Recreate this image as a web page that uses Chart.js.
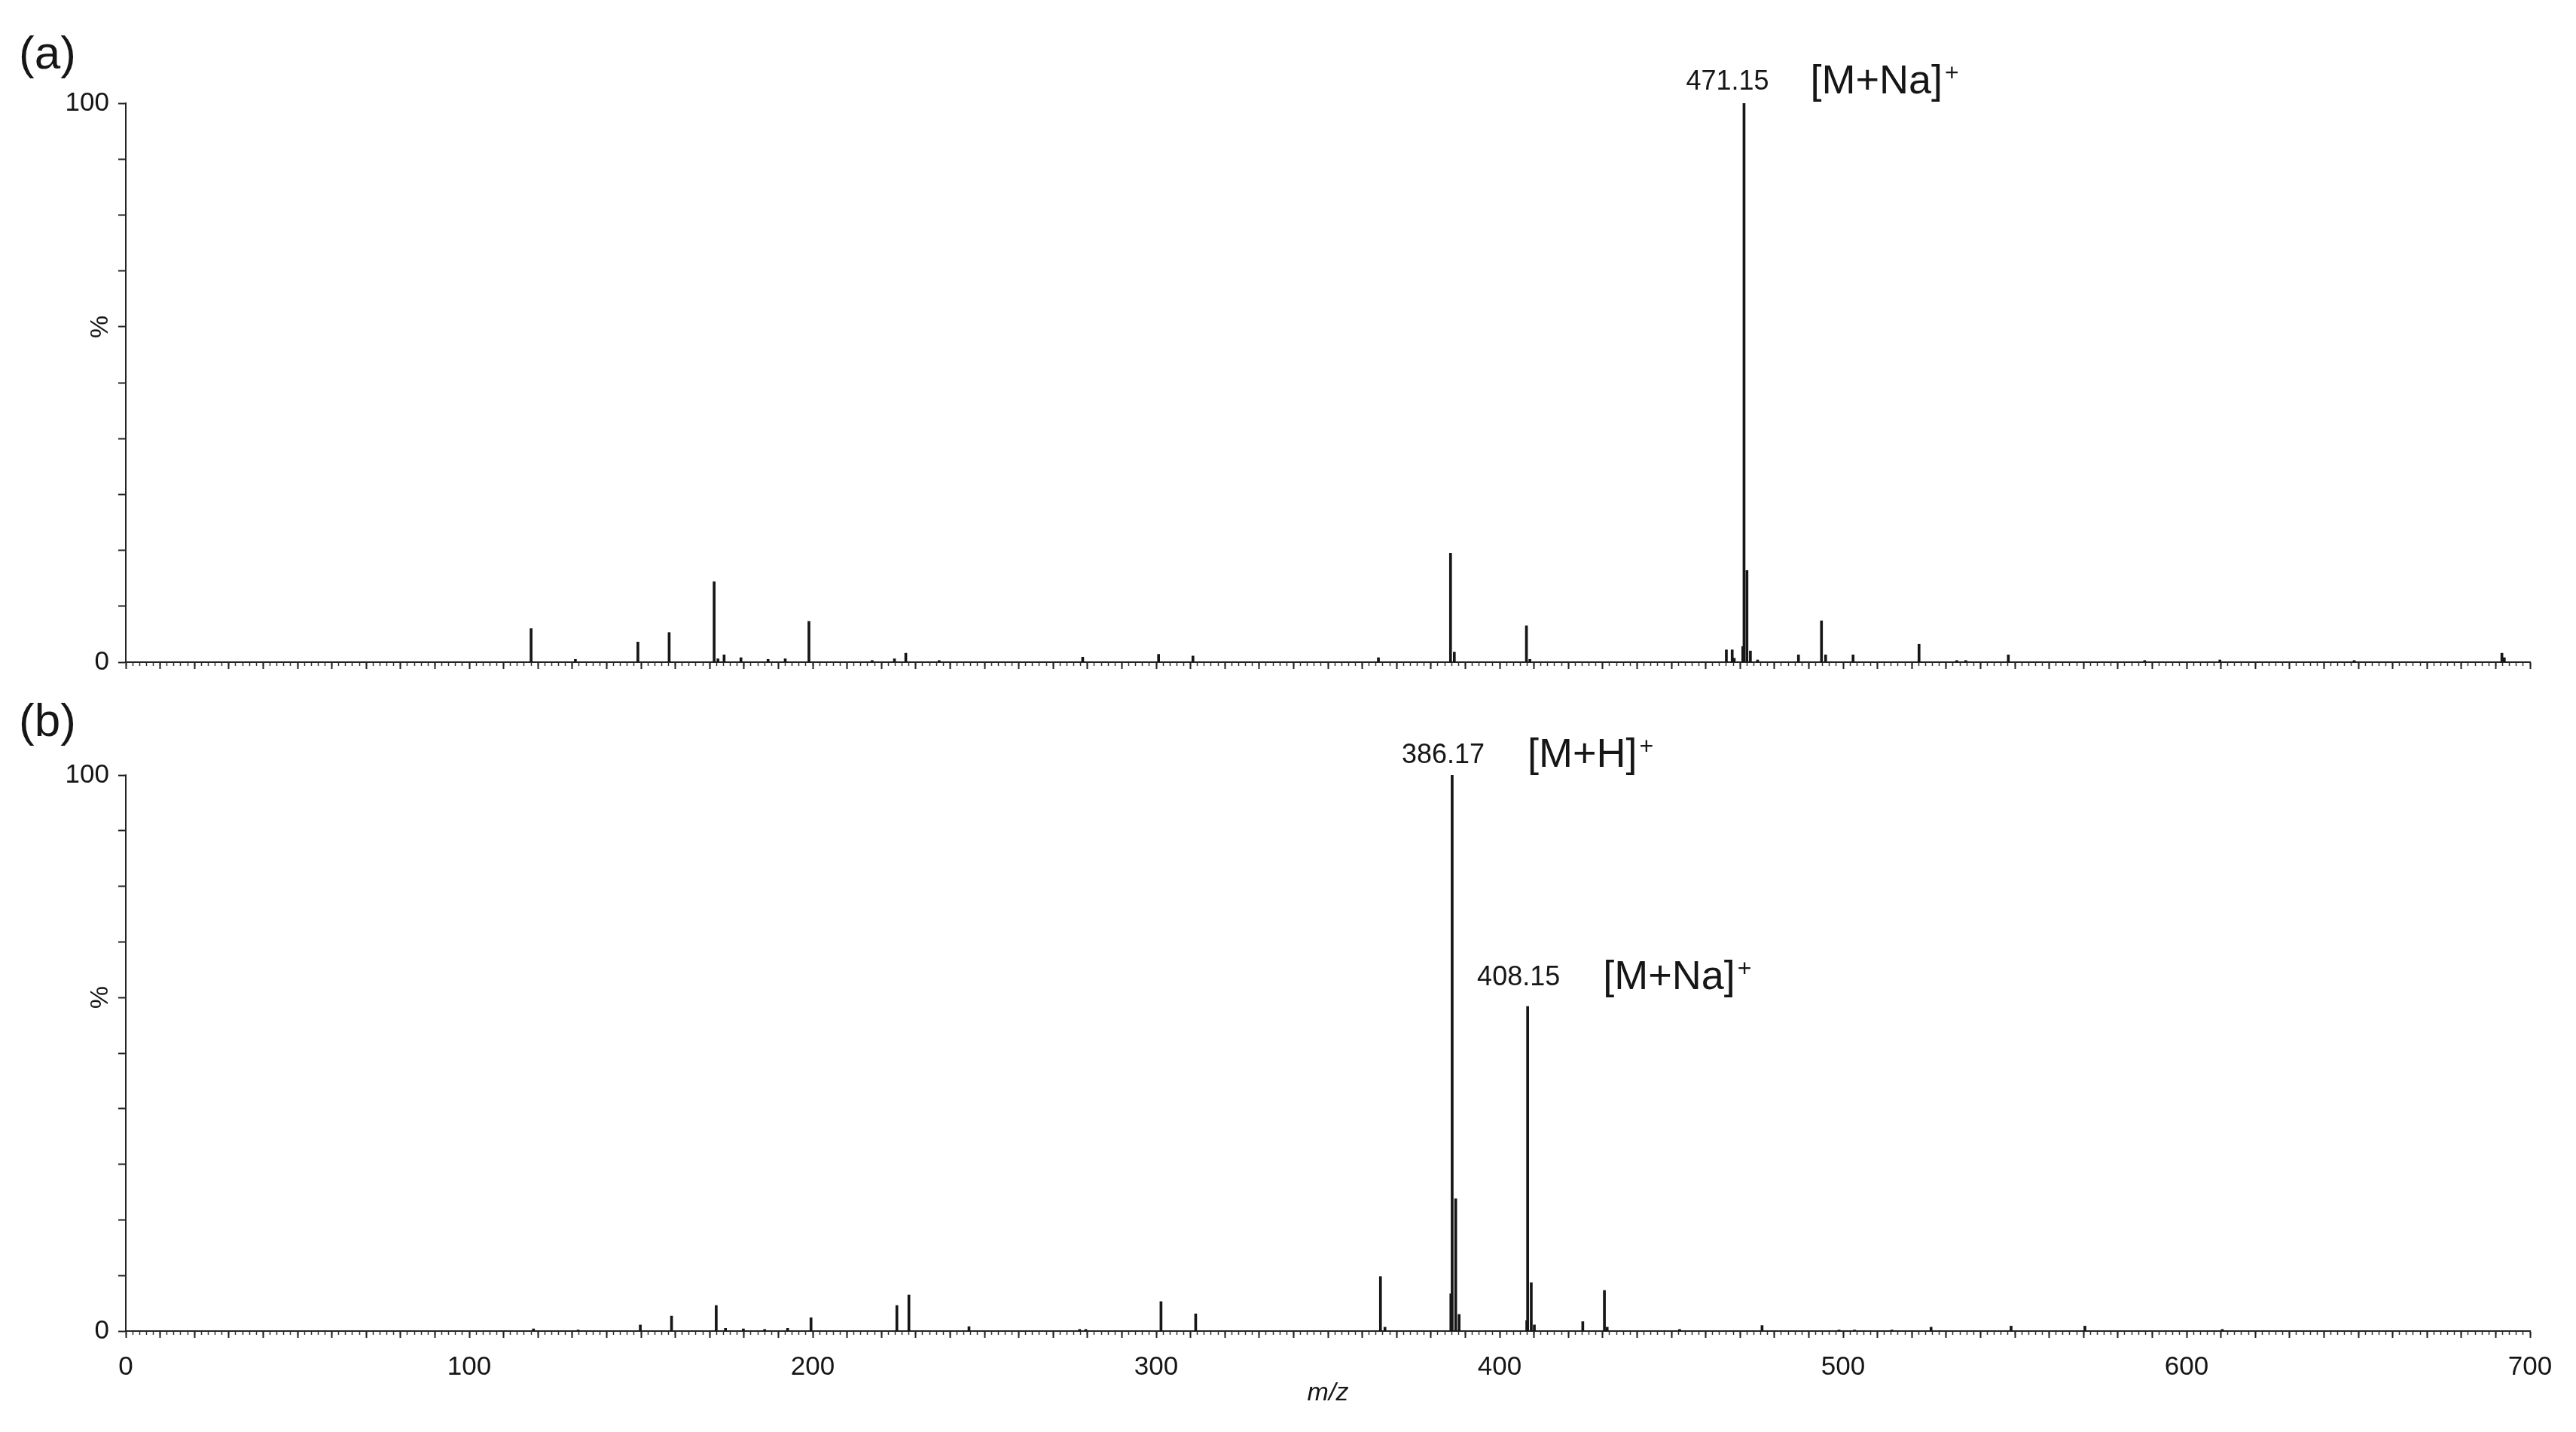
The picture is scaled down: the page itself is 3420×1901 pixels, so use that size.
<!DOCTYPE html>
<html>
<head>
<meta charset="utf-8">
<title>ESI-MS spectra (a) and (b)</title>
<script src="https://cdn.jsdelivr.net/npm/chart.js@4.4.1/dist/chart.umd.min.js"></script>
<style>
  html, body { margin: 0; padding: 0; background: #fff; overflow: hidden; }
  canvas { position: absolute; left: 0; }
  #spectrumA { top: 0; }
  #spectrumB { top: 900px; }
</style>
</head>
<body>
<canvas id="spectrumA" width="3420" height="960"></canvas>
<canvas id="spectrumB" width="3420" height="1001"></canvas>
<script>
// peak lists (m/z, relative intensity %)
const mzA = [118.0, 130.9, 149.1, 158.2, 171.3, 172.4, 174.2, 179.1, 187.0, 192.0,
  198.9, 217.3, 223.8, 227.1, 236.8, 278.6, 300.7, 310.7, 364.7, 385.7,
  386.8, 407.8, 408.8, 466.0, 467.7, 468.3, 470.8, 471.15, 472.0, 473.0,
  475.1, 487.0, 493.7, 494.9, 502.9, 522.1, 533.1, 535.7, 548.1, 587.8,
  609.7, 648.8, 691.8, 692.5];
const intA = [6.0, 0.5, 3.6, 5.3, 14.4, 0.6, 1.3, 0.8, 0.5, 0.6,
  7.3, 0.3, 0.6, 1.6, 0.3, 0.9, 1.4, 1.1, 0.8, 19.5,
  1.8, 6.5, 0.5, 2.2, 2.2, 0.7, 2.8, 100, 16.4, 2.0,
  0.4, 1.3, 7.4, 1.3, 1.3, 3.2, 0.3, 0.3, 1.3, 0.3,
  0.4, 0.3, 1.6, 0.8];

const mzB = [118.7, 131.7, 149.8, 158.9, 171.9, 174.6, 179.8, 186.0, 192.7, 199.5,
  224.5, 228.0, 245.5, 277.7, 279.5, 301.4, 311.5, 365.3, 366.6, 385.8,
  386.17, 387.2, 388.2, 407.9, 408.15, 409.2, 410.1, 424.2, 430.5, 431.3,
  452.4, 476.4, 498.8, 503.3, 514.2, 525.6, 548.9, 570.4, 610.4];
const intB = [0.4, 0.2, 1.1, 2.7, 4.6, 0.5, 0.4, 0.3, 0.5, 2.4,
  4.6, 6.5, 0.8, 0.3, 0.3, 5.3, 3.1, 9.8, 0.7, 6.7,
  100, 23.8, 3.0, 1.9, 58.4, 8.7, 1.1, 1.7, 7.3, 0.7,
  0.3, 1.0, 0.2, 0.2, 0.2, 0.7, 0.9, 0.9, 0.3];

const xTickLabels = [0, 100, 200, 300, 400, 500, 600, 700];
const yTickLabels = [0, 100];

const notesA = [
  { mz: 471.15, level: 103.7, value: '471.15', ion: '[M+Na]', dv: -22, di: 88 },
];
const notesB = [
  { mz: 386.17, level: 103.5, value: '386.17', ion: '[M+H]', dv: -12, di: 100 },
  { mz: 408.15, level: 63.5, value: '408.15', ion: '[M+Na]', dv: -12, di: 100 },
];

const FONT = "'Liberation Sans', Arial, Helvetica, sans-serif";
const INK = '#161616';
Chart.defaults.font.family = FONT;
Chart.defaults.color = INK;

const toPoints = (mz, ints) => mz.map((m, i) => ({ x: m, y: ints[i] }));

const makeAnnotations = (tag, tagY, notes) => ({
  id: `notes${tag}`,
  afterDraw(chart) {
    const { ctx } = chart;
    const { x, y } = chart.scales;
    ctx.save();
    ctx.fillStyle = INK;

    ctx.font = `62px ${FONT}`;
    ctx.textAlign = 'left';
    ctx.textBaseline = 'middle';
    ctx.fillText(tag, 25, tagY);

    // "%" sits at the 60 % mark on the original plots
    ctx.save();
    ctx.translate(134, y.getPixelForValue(60));
    ctx.rotate(-Math.PI / 2);
    ctx.font = `34px ${FONT}`;
    ctx.textAlign = 'center';
    ctx.fillText('%', 0, 0);
    ctx.restore();

    notes.forEach((n) => {
      const px = x.getPixelForValue(n.mz);
      const py = y.getPixelForValue(n.level);
      ctx.font = `36px ${FONT}`;
      ctx.textAlign = 'center';
      ctx.fillText(n.value, px + n.dv, py);

      ctx.font = `54px ${FONT}`;
      ctx.textAlign = 'left';
      ctx.fillText(n.ion, px + n.di, py);
      const w = ctx.measureText(n.ion).width;
      ctx.font = `32px ${FONT}`;
      ctx.fillText('+', px + n.di + w + 3, py - 11);
    });
    ctx.restore();
  },
});

const buildChart = (canvasId, mz, ints, opts) => {
  const ctx = document.getElementById(canvasId).getContext('2d');
  return new Chart(ctx, {
    type: 'bar',
    data: {
      datasets: [{
        data: toPoints(mz, ints),
        backgroundColor: INK,
        borderWidth: 0,
        barThickness: 3,
        xAxisID: 'x',
        yAxisID: 'y',
      }],
    },
    options: {
      responsive: false,
      devicePixelRatio: 1,
      animation: false,
      events: [],
      layout: { padding: { top: opts.top, right: 61, bottom: 0, left: 0 } },
      plugins: { legend: { display: false }, tooltip: { enabled: false } },
      scales: {
        xMinor: {
          type: 'linear',
          axis: 'x',
          position: 'bottom',
          weight: 0,
          min: 0,
          max: 700,
          offset: false,
          afterFit: (scale) => { scale.height = 0; },
          ticks: { display: false, stepSize: 2 },
          grid: {
            drawOnChartArea: false, drawTicks: true, tickLength: 5, tickWidth: 1.5, tickColor: '#333', offset: false,
          },
          border: { display: false },
        },
        x: {
          type: 'linear',
          position: 'bottom',
          weight: 1,
          min: 0,
          max: 700,
          offset: false,
          afterFit: (scale) => { scale.height = opts.xHeight; },
          ticks: {
            display: opts.showLabels,
            stepSize: 10,
            autoSkip: false,
            maxRotation: 0,
            minRotation: 0,
            padding: 18,
            font: { size: 35 },
            color: INK,
            callback: (v) => (xTickLabels.includes(Math.round(v)) && Math.abs(v - Math.round(v)) < 1e-6 ? String(Math.round(v)) : ''),
          },
          grid: {
            drawOnChartArea: false, drawTicks: true, tickLength: 9, tickWidth: 2, tickColor: '#222', offset: false,
          },
          border: { display: true, color: '#222', width: 2 },
          title: {
            display: opts.showLabels,
            text: 'm/z',
            font: { size: 34, style: 'italic' },
            color: INK,
            padding: { top: 0, bottom: 31 },
          },
        },
        y: {
          type: 'linear',
          position: 'left',
          min: 0,
          max: 100,
          afterFit: (scale) => { scale.width = 167; },
          ticks: {
            stepSize: 10,
            autoSkip: false,
            padding: 12,
            font: { size: 35 },
            color: INK,
            callback: (v) => (yTickLabels.includes(v) ? String(v) : ''),
          },
          grid: {
            drawOnChartArea: false, drawTicks: true, tickLength: 10, tickWidth: 2, tickColor: '#222',
          },
          border: { display: true, color: '#222', width: 2 },
        },
      },
    },
    plugins: [makeAnnotations(opts.tag, opts.tagY, opts.notes)],
  });
};

buildChart('spectrumA', mzA, intA, {
  top: 137, xHeight: 81, showLabels: false, tag: '(a)', tagY: 74, notes: notesA,
});
buildChart('spectrumB', mzB, intB, {
  top: 129, xHeight: 134, showLabels: true, tag: '(b)', tagY: 60, notes: notesB,
});
</script>
</body>
</html>
